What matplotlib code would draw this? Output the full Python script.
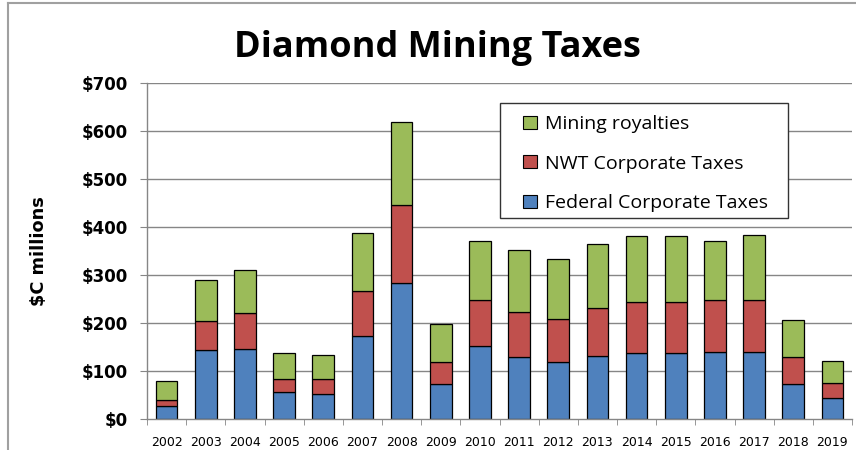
import matplotlib
matplotlib.use("Agg")
import matplotlib.pyplot as plt
import numpy as np
from matplotlib.patches import Rectangle
from matplotlib.lines import Line2D

plt.rcParams['font.family'] = ['Open Sans', 'DejaVu Sans']

years = ['2002', '2003', '2004', '2005', '2006', '2007', '2008', '2009', '2010',
         '2011', '2012', '2013', '2014', '2015', '2016', '2017', '2018', '2019']
federal = [28, 145, 147, 56, 52, 173, 285, 74, 152, 130, 119, 132, 138, 138, 141, 141, 74, 44]
nwt = [12, 60, 74, 29, 33, 95, 162, 45, 97, 93, 91, 99, 106, 106, 108, 108, 56, 32]
royalties = [39, 85, 90, 54, 48, 121, 173, 80, 123, 129, 123, 134, 137, 137, 123, 136, 76, 46]

yticks = [0, 100, 200, 300, 400, 500, 600, 700]
ytick_labels = ['$0', '$100', '$200', '$300', '$400', '$500', '$600', '$700']

c_blue = '#4F81BD'
c_red = '#C0504D'
c_green = '#9BBB59'
grid_c = '#868686'

fig = plt.figure(figsize=(8.56, 4.5), dpi=100)
ax = fig.add_axes([147/856, 1 - 419.3/450, 705/856, 336/450])

x = np.arange(len(years))
fed = np.array(federal)
nw = np.array(nwt)
ro = np.array(royalties)
w = 0.55
b1 = ax.bar(x, fed, w, color=c_blue, edgecolor='black', linewidth=0.9, zorder=3, label='Federal Corporate Taxes')
b2 = ax.bar(x, nw, w, bottom=fed, color=c_red, edgecolor='black', linewidth=0.9, zorder=3, label='NWT Corporate Taxes')
b3 = ax.bar(x, ro, w, bottom=fed + nw, color=c_green, edgecolor='black', linewidth=0.9, zorder=3, label='Mining royalties')

ax.set_xlim(-0.5, len(years) - 0.5)
ax.set_ylim(0, 700)
ax.set_yticks(yticks)
ax.set_yticklabels(ytick_labels, fontsize=12, fontweight='bold', family='DejaVu Sans')
ax.set_xticks(x)
ax.set_xticklabels(years, fontsize=9, family='DejaVu Sans')
ax.set_xticks(np.arange(-0.5, len(years), 1.0), minor=True)
ax.tick_params(axis='x', which='major', length=0, pad=12)
ax.tick_params(axis='x', which='minor', length=4, color=grid_c, direction='out')
ax.tick_params(axis='y', which='major', length=5, color=grid_c, direction='out', pad=9)

for yv in yticks[1:]:
    ax.axhline(yv, color=grid_c, linewidth=1.0, zorder=1)

for s in ['top', 'right']:
    ax.spines[s].set_visible(False)
for s in ['left', 'bottom']:
    ax.spines[s].set_color(grid_c)
    ax.spines[s].set_linewidth(1.0)
    ax.spines[s].set_zorder(4)

ax.set_ylabel('$C millions', fontsize=12.8, fontweight='bold', family='DejaVu Sans')
ax.yaxis.set_label_coords(-0.153, 0.5)
ax.yaxis.label.set_va('center')

# legend box
rect = Rectangle((0.5007, 0.599), 0.909 - 0.5007, 0.941 - 0.599, transform=ax.transAxes,
                 facecolor='white', edgecolor='#333333', linewidth=1.0, zorder=5)
ax.add_patch(rect)
leg = ax.legend(handles=[b3, b2, b1], loc='upper left', bbox_to_anchor=(0.533, 0.905),
                frameon=False, borderpad=0, borderaxespad=0, fontsize=14,
                handlelength=0.72, handleheight=0.65, handletextpad=0.4, labelspacing=1.1)
leg.set_zorder(6)
for h in leg.legend_handles:
    h.set_edgecolor('black')
    h.set_linewidth(0.8)

fig.text(437/856, 1 - 57/450, 'Diamond Mining Taxes', fontsize=26, fontweight='bold',
         ha='center', va='baseline')

# outer frame
fig.add_artist(Line2D([8/856, 1.0], [1 - 3/450, 1 - 3/450], transform=fig.transFigure, color='#A0A0A0', linewidth=1.5))
fig.add_artist(Line2D([8/856, 8/856], [0, 1 - 3/450], transform=fig.transFigure, color='#A0A0A0', linewidth=1.5))

fig.savefig('out.png', dpi=100)
